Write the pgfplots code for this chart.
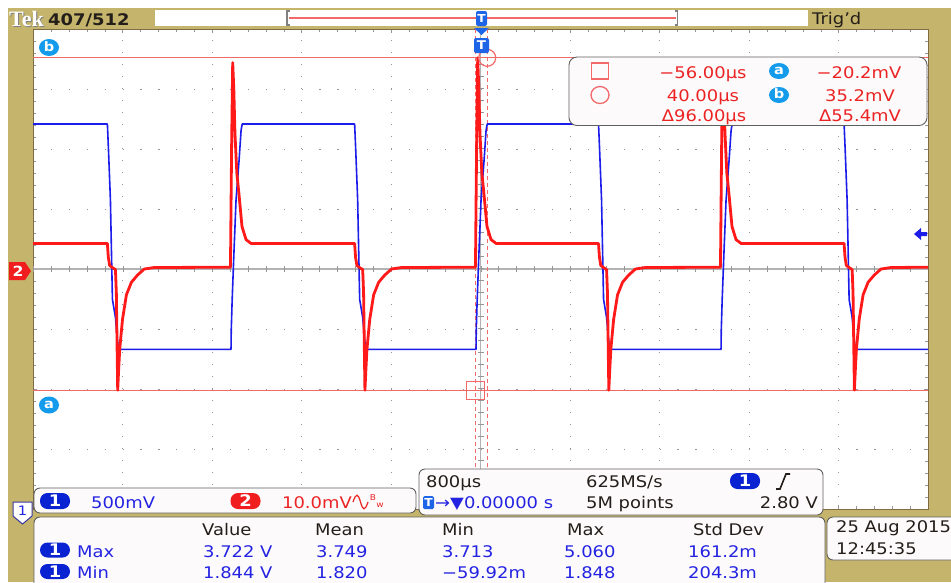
\documentclass[border=0pt]{standalone}
\usepackage{pgfplots}
\pgfplotsset{compat=1.18}
\usepackage{fontspec}
\setmainfont{DejaVu Sans}[FakeStretch=1.12]
\newfontfamily\tekfont{Liberation Serif}
\definecolor{khaki}{RGB}{197,180,108}
\definecolor{framec}{RGB}{125,108,70}
\definecolor{gridc}{RGB}{150,150,150}
\definecolor{ctr}{RGB}{178,178,178}
\definecolor{ch1}{RGB}{28,28,235}
\definecolor{ch2}{RGB}{255,25,25}
\definecolor{curs}{RGB}{242,105,105}
\definecolor{cbl}{RGB}{20,155,235}
\definecolor{tblue}{RGB}{30,100,230}
\definecolor{pillb}{RGB}{10,35,210}
\definecolor{pillr}{RGB}{240,30,30}
\definecolor{txb}{RGB}{35,35,225}
\definecolor{txr}{RGB}{235,35,35}
\definecolor{txk}{RGB}{35,30,25}
\definecolor{boxf}{RGB}{253,250,252}
\definecolor{boxd}{RGB}{95,95,95}
\newcommand\fs{\fontsize{16}{18}\selectfont}

\pgfplotsset{scope/.style={at={(33pt,-509pt)}, anchor=south west,
  width=895pt, height=480pt, scale only axis, xmin=-4000, xmax=4000}}

\begin{document}
\begin{tikzpicture}
\path[use as bounding box] (0,0) rectangle (951pt,-582pt);
\begin{scope}[x=1pt,y=-1pt]
\fill[white] (0,0) rectangle (951,582);
\fill[khaki] (8,8) rectangle (951,582);
\end{scope}

% graticule (channel 2 scale, mV)
\begin{axis}[scope, ymin=-40, ymax=40,
  xtick={-4000,-3200,...,4000}, ytick={-40,-30,...,40},
  minor x tick num=4, minor y tick num=4,
  xticklabels={}, yticklabels={},
  grid=major,
  x grid style={gridc, dash pattern=on 1.2pt off 10.8pt},
  y grid style={gridc, dash pattern=on 1.2pt off 16.7pt},
  tick align=inside, major tick length=4pt, minor tick length=3pt,
  tick style={gridc},
  axis line style={framec, line width=1pt},
  axis background/.style={fill=white}]
\addplot[ctr, line width=1.5pt] coordinates {(-4000,0) (4000,0)};
\addplot[ctr, line width=1.5pt] coordinates {(0,-40) (0,40)};
\addplot[gridc, line width=6pt, dash pattern=on 1pt off 16.9pt] coordinates {(-4000,0) (4000,0)};
\addplot[gridc, line width=6pt, dash pattern=on 1pt off 11pt] coordinates {(0,-40) (0,40)};
% cursors
\addplot[curs, line width=1.3pt] coordinates {(-4000,-20.2) (4000,-20.2)};
\addplot[curs, line width=1.3pt] coordinates {(-4000,35.2) (4000,35.2)};
\addplot[curs, line width=1.2pt, dash pattern=on 4pt off 3pt] coordinates {(-45,-40) (-45,40)};
\addplot[curs, line width=1.2pt, dash pattern=on 4pt off 3pt] coordinates {(60,-40) (60,40)};
\end{axis}

% channel 1 (V)
\begin{axis}[scope, ymin=0.5137, ymax=4.5137, hide axis]
\addplot[ch1, line width=1.6pt, line join=round] table {
t V
-4000 3.722
-3335 3.722
-3325 3.50
-3308 3.09
-3290 2.26
-3263 2.11
-3245 1.92
-3235 1.844
-2230 1.844
-2228 2.00
-2220 2.25
-2203 2.67
-2185 3.09
-2158 3.42
-2140 3.67
-2130 3.722
-1125 3.722
-1115 3.50
-1098 3.09
-1080 2.26
-1053 2.11
-1035 1.92
-1025 1.844
-40 1.844
-38 2.00
-30 2.25
-13 2.67
5 3.09
32 3.42
50 3.67
60 3.722
1055 3.722
1065 3.50
1082 3.09
1100 2.26
1127 2.11
1145 1.92
1155 1.844
2150 1.844
2152 2.00
2160 2.25
2177 2.67
2195 3.09
2222 3.42
2240 3.67
2250 3.722
3250 3.722
3260 3.50
3277 3.09
3295 2.26
3322 2.11
3340 1.92
3350 1.844
4000 1.844
};
\end{axis}

% channel 2 (mV), with the cursor readout drawn over it
\begin{axis}[scope, ymin=-40, ymax=40, hide axis]
\addplot[ch2, line width=2.8pt, line join=round] table {
t mV
-4000 4.25
-3335 4.25
-3327 2.0
-3315 0.6
-3295 0.3
-3263 -0.1
-3255 -4
-3243 -20.2
-3235 -17
-3225 -13.4
-3200 -8.4
-3165 -4.3
-3120 -2.2
-3065 -1.0
-3005 0.0
-2915 0.25
-2235 0.3
-2225 20
-2215 34.4
-2205 30
-2195 22.7
-2178 16
-2160 12.7
-2132 7.1
-2096 4.9
-2050 4.25
-1125 4.25
-1117 2.0
-1105 0.6
-1085 0.3
-1053 -0.1
-1045 -4
-1033 -20.2
-1025 -17
-1015 -13.4
-990 -8.4
-955 -4.3
-910 -2.2
-855 -1.0
-795 0.0
-705 0.25
-45 0.3
-35 20
-25 35.2
-15 30
-5 22.7
12 16
30 12.7
58 7.1
94 4.9
140 4.25
1055 4.25
1063 2.0
1075 0.6
1095 0.3
1127 -0.1
1135 -4
1147 -20.2
1155 -17
1165 -13.4
1190 -8.4
1225 -4.3
1270 -2.2
1325 -1.0
1385 0.0
1475 0.25
2145 0.3
2155 20
2165 34
2175 30
2185 22.7
2202 16
2220 12.7
2248 7.1
2284 4.9
2330 4.25
3250 4.25
3258 2.0
3270 0.6
3290 0.3
3322 -0.1
3330 -4
3342 -20.2
3350 -17
3360 -13.4
3385 -8.4
3420 -4.3
3465 -2.2
3520 -1.0
3580 0.0
3670 0.25
4000 0.3
};
\addplot[curs, only marks, mark=square, mark size=9pt, line width=1.2pt] coordinates {(-45,-20.2)};
\addplot[curs, only marks, mark=o, mark size=8.5pt, line width=1.2pt] coordinates {(60,35.2)};
\begin{scope}[shift={(rel axis cs:0,1)}, every node/.style={inner sep=0pt}]
\draw[boxd, fill=boxf, rounded corners=8pt, line width=0.9pt] (536pt,-28pt) rectangle (894pt,-96.5pt);
\draw[curs, line width=1.3pt] (558.5pt,-34pt) rectangle (575.5pt,-50pt);
\draw[curs, line width=1.3pt] (567pt,-66pt) ellipse (9pt and 8.5pt);
\node[txr, anchor=base, font=\fs] at (670pt,-49pt) {−56.00µs};
\node[txr, anchor=base, font=\fs] at (670pt,-72pt) {40.00µs};
\node[txr, anchor=base, font=\fs] at (671pt,-92pt) {Δ96.00µs};
\fill[cbl] (746pt,-42pt) ellipse (10pt and 8pt);
\node[white, font=\bfseries\fontsize{13}{13}\selectfont] at (746pt,-42pt) {a};
\fill[cbl] (746pt,-66pt) ellipse (10pt and 8pt);
\node[white, font=\bfseries\fontsize{13}{13}\selectfont] at (746pt,-65pt) {b};
\node[txr, anchor=base, font=\fs] at (826pt,-49pt) {−20.2mV};
\node[txr, anchor=base, font=\fs] at (827pt,-72pt) {35.2mV};
\node[txr, anchor=base, font=\fs] at (827pt,-92pt) {Δ55.4mV};
\end{scope}
\end{axis}

\begin{scope}[x=1pt,y=-1pt, every node/.style={inner sep=0pt}]
% top bar
\fill[white] (155,10) rectangle (808,26);
\draw[gray, line width=1.6pt] (289.5,11) -- (287,11) -- (287,25) -- (289.5,25);
\draw[gray, line width=1.6pt] (675,11) -- (677.5,11) -- (677.5,25) -- (675,25);
\draw[curs, line width=2pt] (289,17.5) -- (676,17.5);
\node[anchor=base west, font=\tekfont\bfseries\fontsize{22}{22}\selectfont, gray] at (10,27) {Tek};
\node[anchor=base west, font=\tekfont\bfseries\fontsize{22}{22}\selectfont, white] at (9,26) {Tek};
\node[anchor=base west, font=\fs\bfseries, txk] at (48,25) {407/512};
\node[anchor=base west, font=\fs, txk] at (812,24) {Trig'd};
% trigger markers
\fill[tblue, rounded corners=2pt] (476,11) rectangle (487,26);
\node[white, font=\bfseries\fontsize{11}{11}\selectfont] at (481.5,18.5) {T};
\fill[tblue] (474,28) -- (489,28) -- (481.5,35) -- cycle;
\fill[tblue, rounded corners=2pt] (474,38) rectangle (489,53);
\node[white, font=\bfseries\fontsize{12}{12}\selectfont] at (481.5,45.5) {T};
% cursor labels
\fill[cbl] (49,47.5) ellipse (10 and 8.5);
\node[white, font=\bfseries\fontsize{13}{13}\selectfont] at (49,46.5) {b};
\fill[cbl] (49,405) ellipse (10 and 8.5);
\node[white, font=\bfseries\fontsize{13}{13}\selectfont] at (49,405) {a};
% side markers
\fill[pillr] (9,262) -- (25,262) -- (31,271) -- (25,280) -- (9,280) -- cycle;
\node[white, font=\bfseries\fontsize{14}{14}\selectfont] at (18,271) {2};
\draw[boxd!60!blue, fill=white, line width=1pt] (13,502) -- (32,502) -- (32,516) -- (22.5,524) -- (13,516) -- cycle;
\node[txb, font=\fontsize{13}{13}\selectfont] at (22.5,511) {1};
\fill[ch1] (914,234) -- (921,228) -- (921,232) -- (927,232) -- (927,236) -- (921,236) -- (921,240) -- cycle;
% channel readout
\draw[boxd, fill=boxf, rounded corners=6pt, line width=0.9pt] (34,488) rectangle (416,513);
\node[fill=pillb, text=white, rounded corners=7.5pt, minimum width=30pt, minimum height=16pt, font=\fs\bfseries] at (55,501) {1};
\node[anchor=base west, font=\fs, txb] at (91,508) {500mV};
\node[fill=pillr, text=white, rounded corners=7.5pt, minimum width=30pt, minimum height=16pt, font=\fs\bfseries] at (245.5,501) {2};
\node[anchor=base west, font=\fs, txr] at (282,508) {10.0mV};
\draw[txr, line width=1.2pt] (353,502) .. controls (356,493) and (358,493) .. (360.5,502) .. controls (363,511) and (365,511) .. (368,502);
\node[txr, font=\fontsize{8}{8}\selectfont] at (373,498) {B};
\node[txr, font=\fontsize{8}{8}\selectfont] at (380,505) {w};
% timebase readout
\draw[boxd, fill=boxf, rounded corners=6pt, line width=0.9pt] (419,469) rectangle (823,515);
\node[anchor=base west, font=\fs, txk] at (426,487) {800µs};
\node[anchor=base west, font=\fs, txk] at (586,487) {625MS/s};
\node[fill=pillb, text=white, rounded corners=7.5pt, minimum width=30pt, minimum height=16pt, font=\fs\bfseries] at (745,481) {1};
\draw[txk, line width=1.6pt] (776,489) -- (780,489) -- (786,474) -- (790,474);
\fill[tblue, rounded corners=1.5pt] (423,496) rectangle (434,509);
\node[white, font=\bfseries\fontsize{11}{11}\selectfont] at (428.5,502.5) {T};
\node[anchor=base west, font=\fs, txb] at (435,508) {→▼0.00000 s};
\node[anchor=base west, font=\fs, txk] at (586,508) {5M points};
\node[anchor=base east, font=\fs, txk] at (818,508) {2.80 V};
% measurements
\draw[boxd, fill=boxf, rounded corners=6pt, line width=0.9pt] (34,517) rectangle (825,600);
\node[anchor=base west, font=\fs, txk] at (202,535) {Value};
\node[anchor=base west, font=\fs, txk] at (315,535) {Mean};
\node[anchor=base west, font=\fs, txk] at (442,535) {Min};
\node[anchor=base west, font=\fs, txk] at (567,535) {Max};
\node[anchor=base west, font=\fs, txk] at (693,535) {Std Dev};
\node[fill=pillb, text=white, rounded corners=7.5pt, minimum width=30pt, minimum height=15pt, font=\fs\bfseries] at (55,550) {1};
\node[fill=pillb, text=white, rounded corners=7.5pt, minimum width=30pt, minimum height=15pt, font=\fs\bfseries] at (55,571.5) {1};
\node[anchor=base west, font=\fs, txb] at (77,557) {Max};
\node[anchor=base west, font=\fs, txb] at (203,557) {3.722 V};
\node[anchor=base west, font=\fs, txb] at (316,557) {3.749};
\node[anchor=base west, font=\fs, txb] at (442,557) {3.713};
\node[anchor=base west, font=\fs, txb] at (564,557) {5.060};
\node[anchor=base west, font=\fs, txb] at (688,557) {161.2m};
\node[anchor=base west, font=\fs, txb] at (77,578) {Min};
\node[anchor=base west, font=\fs, txb] at (203,578) {1.844 V};
\node[anchor=base west, font=\fs, txb] at (316,578) {1.820};
\node[anchor=base west, font=\fs, txb] at (442,578) {−59.92m};
\node[anchor=base west, font=\fs, txb] at (564,578) {1.848};
\node[anchor=base west, font=\fs, txb] at (688,578) {204.3m};
% date
\draw[boxd, fill=boxf, rounded corners=6pt, line width=0.9pt] (827,517) rectangle (960,560);
\node[anchor=base west, font=\fs, txk] at (836,532) {25 Aug 2015};
\node[anchor=base west, font=\fs, txk] at (836,554) {12:45:35};
\end{scope}
\end{tikzpicture}
\end{document}
